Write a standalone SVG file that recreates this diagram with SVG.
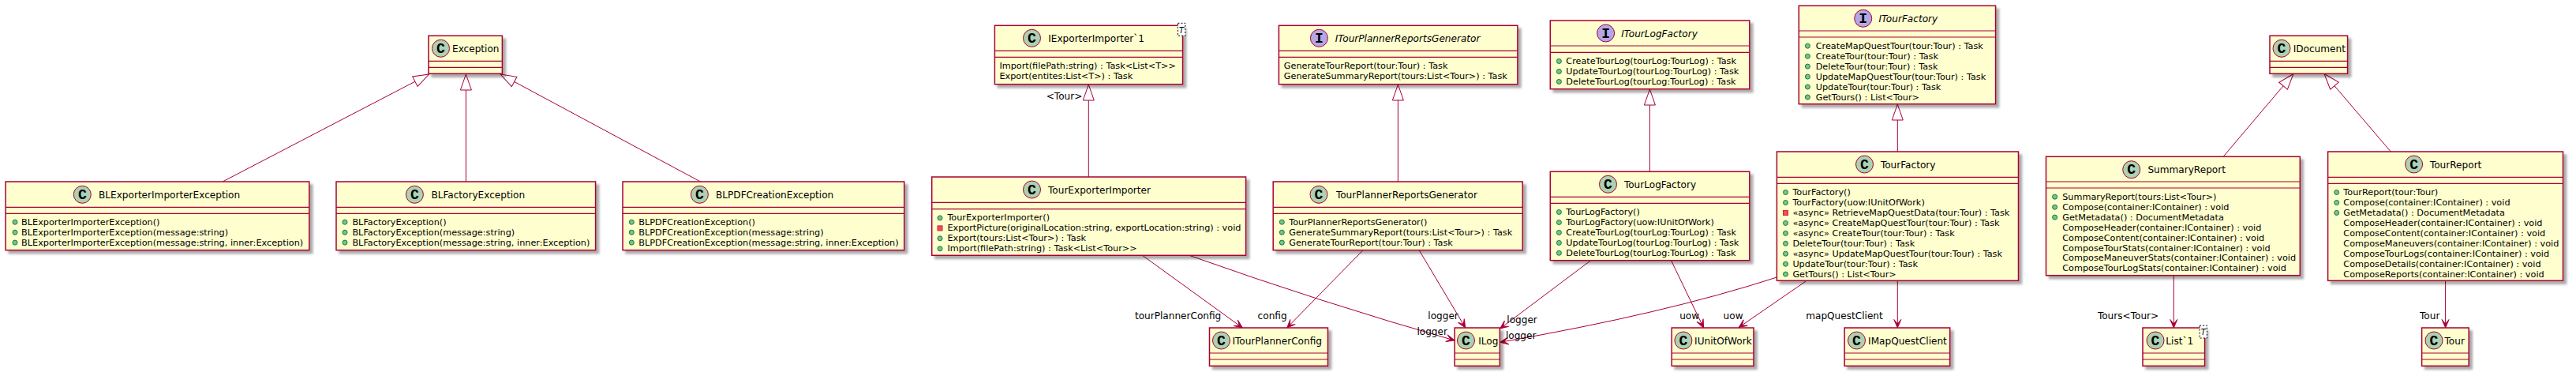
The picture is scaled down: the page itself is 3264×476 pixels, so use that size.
<svg xmlns="http://www.w3.org/2000/svg" width="3264" height="476" viewBox="0 0 3264 476">
<style>
text{font-family:"DejaVu Sans","Liberation Sans",sans-serif;fill:#000}
.box{fill:#FEFECE;stroke:#A80036;stroke-width:1.5;filter:url(#sh)}
.sep{stroke:#A80036;stroke-width:1.2}
.c{fill:#ADD1B2;stroke:#A80036;stroke-width:1}
.i{fill:#B4A7E5;stroke:#A80036;stroke-width:1}
.g{font-family:"Liberation Mono",monospace;font-weight:bold;font-size:18px;text-anchor:middle}
.n{font-size:12.1px}
.it{font-style:italic}
.m{font-size:11.25px}
.l{font-size:12.1px}
.tb{fill:#fff;stroke:#000;stroke-width:1;stroke-dasharray:2 2}
.t{font-size:10px;font-style:italic;text-anchor:middle}
.pub{fill:#84BE84;stroke:#038048;stroke-width:1}
.pri{fill:#F24D5C;stroke:#C82930;stroke-width:1}
.gen{fill:none;stroke:#A80036;stroke-width:1;marker-end:url(#tri)}
.as{fill:none;stroke:#A80036;stroke-width:1;marker-end:url(#arr)}
</style>
<defs>
<filter id="sh" x="-10%" y="-10%" width="120%" height="130%"><feDropShadow dx="4" dy="4" stdDeviation="1.5" flood-color="#000" flood-opacity="0.33"/></filter>
<marker id="tri" markerUnits="userSpaceOnUse" viewBox="-22 -9 24 18" refX="0" refY="0" markerWidth="24" markerHeight="18" orient="auto"><polygon points="0,0 -20,-7 -20,7" fill="#fff" stroke="#A80036" stroke-width="1"/></marker>
<marker id="arr" markerUnits="userSpaceOnUse" viewBox="-12 -6 14 12" refX="0" refY="0" markerWidth="14" markerHeight="12" orient="auto"><polygon points="0,0 -10.5,-4.5 -5,0 -10.5,4.5" fill="#A80036" stroke="#A80036" stroke-width="1"/></marker>
<circle id="pub" class="pub" r="3"/>
<rect id="pri" class="pri" x="-3" y="-3" width="6" height="6"/>
</defs>
<rect width="3264" height="476" fill="#fff"/>

<g id="connectors">
<path class="gen" d="M282 230L543.6 94"/>
<path class="gen" d="M590.4 230V94"/>
<path class="gen" d="M887.5 230L634 94"/>
<path class="gen" d="M1379.3 224V107"/>
<path class="gen" d="M1771.4 230V107"/>
<path class="gen" d="M2090.4 217.3V113"/>
<path class="gen" d="M2404.3 192V132"/>
<path class="gen" d="M2817.1 198.3L2906 93.5"/>
<path class="gen" d="M3029.3 192L2945 93.5"/>
<path class="as" d="M1447.5 323.3L1574.3 415"/>
<path class="as" d="M1506.8 323.3Q1675 383 1843 431"/>
<path class="as" d="M1727.5 316.3L1630.7 415"/>
<path class="as" d="M1797.9 316.3L1856.8 415"/>
<path class="as" d="M2015.7 329.7L1900.7 416"/>
<path class="as" d="M2117.5 329.7L2158.6 415"/>
<path class="as" d="M2251.4 351Q2110 397 1900.7 433.3"/>
<path class="as" d="M2288.2 356L2203.2 414.5"/>
<path class="as" d="M2404.3 355.3V415"/>
<path class="as" d="M2754.3 348.7V415"/>
<path class="as" d="M3098.6 355.3V415"/>
<text class="l" x="1325.7" y="126">&lt;Tour&gt;</text>
<text class="l" x="1437.9" y="403.7">tourPlannerConfig</text>
<text class="l" x="1593.6" y="403.7">config</text>
<text class="l" x="1809.3" y="403.7">logger</text>
<text class="l" x="1795.4" y="423.7">logger</text>
<text class="l" x="1909.3" y="408.7">logger</text>
<text class="l" x="1907.9" y="428.7">logger</text>
<text class="l" x="2128.2" y="403.7">uow</text>
<text class="l" x="2183.6" y="403.7">uow</text>
<text class="l" x="2288.2" y="403.7">mapQuestClient</text>
<text class="l" x="2657.9" y="403.7">Tours&lt;Tour&gt;</text>
<text class="l" x="3066" y="403.7">Tour</text>
</g>

<g id="Exception">
<rect class="box" x="543" y="45.3" width="93.4" height="48"/>
<path class="sep" d="M543 77.3H636.4M543 85.3H636.4"/>
<circle class="c" cx="558.5" cy="61.3" r="11"/><text class="g" x="558.5" y="66.8">C</text>
<text class="n" x="573" y="65.8">Exception</text>
</g>

<g id="BLExporterImporterException">
<rect class="box" x="7.1" y="230" width="384.7" height="86.7"/>
<path class="sep" d="M7.1 262.3H391.8M7.1 270.3H391.8"/>
<circle class="c" cx="104.3" cy="246.3" r="11"/><text class="g" x="104.3" y="251.8">C</text>
<text class="n" x="125" y="250.7">BLExporterImporterException</text>
<use href="#pub" x="19" y="281.2"/><text class="m" x="27.1" y="284.7">BLExporterImporterException()</text>
<use href="#pub" x="19" y="294.2"/><text class="m" x="27.1" y="297.7">BLExporterImporterException(message:string)</text>
<use href="#pub" x="19" y="307.1"/><text class="m" x="27.1" y="310.6">BLExporterImporterException(message:string, inner:Exception)</text>
</g>

<g id="BLFactoryException">
<rect class="box" x="426" y="230" width="328.6" height="86.7"/>
<path class="sep" d="M426 262.3H754.6M426 270.3H754.6"/>
<circle class="c" cx="525.4" cy="246.3" r="11"/><text class="g" x="525.4" y="251.8">C</text>
<text class="n" x="546.4" y="250.7">BLFactoryException</text>
<use href="#pub" x="437" y="281.2"/><text class="m" x="446.4" y="284.7">BLFactoryException()</text>
<use href="#pub" x="437" y="294.2"/><text class="m" x="446.4" y="297.7">BLFactoryException(message:string)</text>
<use href="#pub" x="437" y="307.1"/><text class="m" x="446.4" y="310.6">BLFactoryException(message:string, inner:Exception)</text>
</g>

<g id="BLPDFCreationException">
<rect class="box" x="789" y="230" width="356.7" height="86.7"/>
<path class="sep" d="M789 262.3H1145.7M789 270.3H1145.7"/>
<circle class="c" cx="886.4" cy="246.3" r="11"/><text class="g" x="886.4" y="251.8">C</text>
<text class="n" x="907" y="250.7">BLPDFCreationException</text>
<use href="#pub" x="800.3" y="281.2"/><text class="m" x="809.3" y="284.7">BLPDFCreationException()</text>
<use href="#pub" x="800.3" y="294.2"/><text class="m" x="809.3" y="297.7">BLPDFCreationException(message:string)</text>
<use href="#pub" x="800.3" y="307.1"/><text class="m" x="809.3" y="310.6">BLPDFCreationException(message:string, inner:Exception)</text>
</g>

<g id="IExporterImporter">
<rect class="box" x="1260.4" y="32.3" width="238.2" height="74.4"/>
<path class="sep" d="M1260.4 64.3H1498.6M1260.4 72.3H1498.6"/>
<circle class="c" cx="1307.5" cy="48.3" r="11"/><text class="g" x="1307.5" y="53.8">C</text>
<text class="n" x="1328.2" y="52.8">IExporterImporter`1</text>
<rect class="tb" x="1492.5" y="29.3" width="9.3" height="16"/><text class="t" x="1497.1" y="41.5">T</text>
<text class="m" x="1266.4" y="87">Import(filePath:string) : Task&lt;List&lt;T&gt;&gt;</text>
<text class="m" x="1266.4" y="100">Export(entites:List&lt;T&gt;) : Task</text>
</g>

<g id="TourExporterImporter">
<rect class="box" x="1180.7" y="224" width="397.9" height="99.3"/>
<path class="sep" d="M1180.7 256.3H1578.6M1180.7 264.7H1578.6"/>
<circle class="c" cx="1307.5" cy="240" r="11"/><text class="g" x="1307.5" y="245.5">C</text>
<text class="n" x="1328" y="244.5">TourExporterImporter</text>
<use href="#pub" x="1191" y="275.9"/><text class="m" x="1200.4" y="279.4">TourExporterImporter()</text>
<use href="#pri" x="1191" y="288.9"/><text class="m" x="1200.4" y="292.4">ExportPicture(originalLocation:string, exportLocation:string) : void</text>
<use href="#pub" x="1191" y="301.8"/><text class="m" x="1200.4" y="305.3">Export(tours:List&lt;Tour&gt;) : Task</text>
<use href="#pub" x="1191" y="314.8"/><text class="m" x="1200.4" y="318.3">Import(filePath:string) : Task&lt;List&lt;Tour&gt;&gt;</text>
</g>

<g id="ITourPlannerReportsGenerator">
<rect class="box" x="1620.4" y="32.3" width="302.5" height="74.4"/>
<path class="sep" d="M1620.4 64.3H1922.9M1620.4 72.3H1922.9"/>
<circle class="i" cx="1671.4" cy="48.3" r="11"/><text class="g" x="1671.4" y="53.8">I</text>
<text class="n it" x="1691.8" y="52.8">ITourPlannerReportsGenerator</text>
<text class="m" x="1626.8" y="87">GenerateTourReport(tour:Tour) : Task</text>
<text class="m" x="1626.8" y="100">GenerateSummaryReport(tours:List&lt;Tour&gt;) : Task</text>
</g>

<g id="TourPlannerReportsGenerator">
<rect class="box" x="1613.2" y="230" width="316.1" height="86.7"/>
<path class="sep" d="M1613.2 262.3H1929.3M1613.2 270.3H1929.3"/>
<circle class="c" cx="1671" cy="246.3" r="11"/><text class="g" x="1671" y="251.8">C</text>
<text class="n" x="1692.9" y="250.7">TourPlannerReportsGenerator</text>
<use href="#pub" x="1624.3" y="281.2"/><text class="m" x="1633.2" y="284.7">TourPlannerReportsGenerator()</text>
<use href="#pub" x="1624.3" y="294.2"/><text class="m" x="1633.2" y="297.7">GenerateSummaryReport(tours:List&lt;Tour&gt;) : Task</text>
<use href="#pub" x="1624.3" y="307.1"/><text class="m" x="1633.2" y="310.6">GenerateTourReport(tour:Tour) : Task</text>
</g>

<g id="ITourLogFactory">
<rect class="box" x="1964.3" y="26" width="252.5" height="86.7"/>
<path class="sep" d="M1964.3 58H2216.8M1964.3 66.3H2216.8"/>
<circle class="i" cx="2034.6" cy="42" r="11"/><text class="g" x="2034.6" y="47.5">I</text>
<text class="n it" x="2054.3" y="46.5">ITourLogFactory</text>
<use href="#pub" x="1975.4" y="77.5"/><text class="m" x="1984.3" y="81">CreateTourLog(tourLog:TourLog) : Task</text>
<use href="#pub" x="1975.4" y="90.5"/><text class="m" x="1984.3" y="94">UpdateTourLog(tourLog:TourLog) : Task</text>
<use href="#pub" x="1975.4" y="103.4"/><text class="m" x="1984.3" y="106.9">DeleteTourLog(tourLog:TourLog) : Task</text>
</g>

<g id="TourLogFactory">
<rect class="box" x="1964.3" y="217.3" width="252.5" height="112.4"/>
<path class="sep" d="M1964.3 249.3H2216.8M1964.3 257.3H2216.8"/>
<circle class="c" cx="2037.5" cy="233.3" r="11"/><text class="g" x="2037.5" y="238.8">C</text>
<text class="n" x="2057.9" y="237.8">TourLogFactory</text>
<use href="#pub" x="1975.4" y="268.5"/><text class="m" x="1984.3" y="272">TourLogFactory()</text>
<use href="#pub" x="1975.4" y="281.5"/><text class="m" x="1984.3" y="285">TourLogFactory(uow:IUnitOfWork)</text>
<use href="#pub" x="1975.4" y="294.4"/><text class="m" x="1984.3" y="297.9">CreateTourLog(tourLog:TourLog) : Task</text>
<use href="#pub" x="1975.4" y="307.4"/><text class="m" x="1984.3" y="310.9">UpdateTourLog(tourLog:TourLog) : Task</text>
<use href="#pub" x="1975.4" y="320.3"/><text class="m" x="1984.3" y="323.8">DeleteTourLog(tourLog:TourLog) : Task</text>
</g>

<g id="ITourFactory">
<rect class="box" x="2279.3" y="7.3" width="249.3" height="124.4"/>
<path class="sep" d="M2279.3 39H2528.6M2279.3 47H2528.6"/>
<circle class="i" cx="2360.7" cy="23.3" r="11"/><text class="g" x="2360.7" y="28.8">I</text>
<text class="n it" x="2380.4" y="27.8">ITourFactory</text>
<use href="#pub" x="2290.4" y="58.2"/><text class="m" x="2300.7" y="61.7">CreateMapQuestTour(tour:Tour) : Task</text>
<use href="#pub" x="2290.4" y="71.2"/><text class="m" x="2300.7" y="74.7">CreateTour(tour:Tour) : Task</text>
<use href="#pub" x="2290.4" y="84.1"/><text class="m" x="2300.7" y="87.6">DeleteTour(tour:Tour) : Task</text>
<use href="#pub" x="2290.4" y="97.1"/><text class="m" x="2300.7" y="100.6">UpdateMapQuestTour(tour:Tour) : Task</text>
<use href="#pub" x="2290.4" y="110"/><text class="m" x="2300.7" y="113.5">UpdateTour(tour:Tour) : Task</text>
<use href="#pub" x="2290.4" y="123"/><text class="m" x="2300.7" y="126.5">GetTours() : List&lt;Tour&gt;</text>
</g>

<g id="TourFactory">
<rect class="box" x="2251.4" y="192" width="306.1" height="163.3"/>
<path class="sep" d="M2251.4 224.3H2557.5M2251.4 232.3H2557.5"/>
<circle class="c" cx="2362.5" cy="208" r="11"/><text class="g" x="2362.5" y="213.5">C</text>
<text class="n" x="2382.9" y="212.5">TourFactory</text>
<use href="#pub" x="2262.5" y="243.5"/><text class="m" x="2271.4" y="247">TourFactory()</text>
<use href="#pub" x="2262.5" y="256.5"/><text class="m" x="2271.4" y="260">TourFactory(uow:IUnitOfWork)</text>
<use href="#pri" x="2262.5" y="269.4"/><text class="m" x="2271.4" y="272.9">«async» RetrieveMapQuestData(tour:Tour) : Task</text>
<use href="#pub" x="2262.5" y="282.4"/><text class="m" x="2271.4" y="285.9">«async» CreateMapQuestTour(tour:Tour) : Task</text>
<use href="#pub" x="2262.5" y="295.3"/><text class="m" x="2271.4" y="298.8">«async» CreateTour(tour:Tour) : Task</text>
<use href="#pub" x="2262.5" y="308.3"/><text class="m" x="2271.4" y="311.8">DeleteTour(tour:Tour) : Task</text>
<use href="#pub" x="2262.5" y="321.2"/><text class="m" x="2271.4" y="324.7">«async» UpdateMapQuestTour(tour:Tour) : Task</text>
<use href="#pub" x="2262.5" y="334.2"/><text class="m" x="2271.4" y="337.7">UpdateTour(tour:Tour) : Task</text>
<use href="#pub" x="2262.5" y="347.1"/><text class="m" x="2271.4" y="350.6">GetTours() : List&lt;Tour&gt;</text>
</g>

<g id="IDocument">
<rect class="box" x="2876" y="45.3" width="98.6" height="48"/>
<path class="sep" d="M2876 77.3H2974.6M2876 85.3H2974.6"/>
<circle class="c" cx="2891" cy="61.3" r="11"/><text class="g" x="2891" y="66.8">C</text>
<text class="n" x="2905.7" y="65.8">IDocument</text>
</g>

<g id="SummaryReport">
<rect class="box" x="2592.5" y="198.3" width="321.8" height="150.4"/>
<path class="sep" d="M2592.5 230H2914.3M2592.5 238H2914.3"/>
<circle class="c" cx="2700.7" cy="214.7" r="11"/><text class="g" x="2700.7" y="220.2">C</text>
<text class="n" x="2721.4" y="219">SummaryReport</text>
<use href="#pub" x="2603.6" y="249.2"/><text class="m" x="2613.2" y="252.7">SummaryReport(tours:List&lt;Tour&gt;)</text>
<use href="#pub" x="2603.6" y="262.2"/><text class="m" x="2613.2" y="265.7">Compose(container:IContainer) : void</text>
<use href="#pub" x="2603.6" y="275.1"/><text class="m" x="2613.2" y="278.6">GetMetadata() : DocumentMetadata</text>
<text class="m" x="2613.2" y="291.6">ComposeHeader(container:IContainer) : void</text>
<text class="m" x="2613.2" y="304.5">ComposeContent(container:IContainer) : void</text>
<text class="m" x="2613.2" y="317.5">ComposeTourStats(container:IContainer) : void</text>
<text class="m" x="2613.2" y="330.4">ComposeManeuverStats(container:IContainer) : void</text>
<text class="m" x="2613.2" y="343.4">ComposeTourLogStats(container:IContainer) : void</text>
</g>

<g id="TourReport">
<rect class="box" x="2949.6" y="192" width="297.9" height="163.3"/>
<path class="sep" d="M2949.6 224.3H3247.5M2949.6 232.3H3247.5"/>
<circle class="c" cx="3058.6" cy="208" r="11"/><text class="g" x="3058.6" y="213.5">C</text>
<text class="n" x="3078.9" y="212.5">TourReport</text>
<use href="#pub" x="2960.7" y="243.5"/><text class="m" x="2969.3" y="247">TourReport(tour:Tour)</text>
<use href="#pub" x="2960.7" y="256.5"/><text class="m" x="2969.3" y="260">Compose(container:IContainer) : void</text>
<use href="#pub" x="2960.7" y="269.4"/><text class="m" x="2969.3" y="272.9">GetMetadata() : DocumentMetadata</text>
<text class="m" x="2969.3" y="285.9">ComposeHeader(container:IContainer) : void</text>
<text class="m" x="2969.3" y="298.8">ComposeContent(container:IContainer) : void</text>
<text class="m" x="2969.3" y="311.8">ComposeManeuvers(container:IContainer) : void</text>
<text class="m" x="2969.3" y="324.7">ComposeTourLogs(container:IContainer) : void</text>
<text class="m" x="2969.3" y="337.7">ComposeDetails(container:IContainer) : void</text>
<text class="m" x="2969.3" y="350.6">ComposeReports(container:IContainer) : void</text>
</g>

<g id="ITourPlannerConfig">
<rect class="box" x="1532.5" y="415" width="150" height="48.3"/>
<path class="sep" d="M1532.5 447H1682.5M1532.5 455H1682.5"/>
<circle class="c" cx="1547.5" cy="431" r="11"/><text class="g" x="1547.5" y="436.5">C</text>
<text class="n" x="1561.4" y="435.5">ITourPlannerConfig</text>
</g>

<g id="ILog">
<rect class="box" x="1843.2" y="415" width="57.2" height="48.3"/>
<path class="sep" d="M1843.2 447H1900.4M1843.2 455H1900.4"/>
<circle class="c" cx="1857.5" cy="431" r="11"/><text class="g" x="1857.5" y="436.5">C</text>
<text class="n" x="1873.2" y="435.5">ILog</text>
</g>

<g id="IUnitOfWork">
<rect class="box" x="2118.2" y="415" width="103.8" height="48.3"/>
<path class="sep" d="M2118.2 447H2222M2118.2 455H2222"/>
<circle class="c" cx="2132.9" cy="431" r="11"/><text class="g" x="2132.9" y="436.5">C</text>
<text class="n" x="2147.1" y="435.5">IUnitOfWork</text>
</g>

<g id="IMapQuestClient">
<rect class="box" x="2337.1" y="415" width="133.6" height="48.3"/>
<path class="sep" d="M2337.1 447H2470.7M2337.1 455H2470.7"/>
<circle class="c" cx="2352.5" cy="431" r="11"/><text class="g" x="2352.5" y="436.5">C</text>
<text class="n" x="2367.1" y="435.5">IMapQuestClient</text>
</g>

<g id="List1">
<rect class="box" x="2715" y="415" width="78.6" height="48.3"/>
<path class="sep" d="M2715 447H2793.6M2715 455H2793.6"/>
<circle class="c" cx="2731" cy="431" r="11"/><text class="g" x="2731" y="436.5">C</text>
<text class="n" x="2744.3" y="435.5">List`1</text>
<rect class="tb" x="2787.1" y="412" width="9.3" height="16"/><text class="t" x="2791.7" y="424.2">T</text>
</g>

<g id="Tour">
<rect class="box" x="3068.6" y="415" width="59.6" height="48.3"/>
<path class="sep" d="M3068.6 447H3128.2M3068.6 455H3128.2"/>
<circle class="c" cx="3084" cy="431" r="11"/><text class="g" x="3084" y="436.5">C</text>
<text class="n" x="3097.5" y="435.5">Tour</text>
</g>
</svg>
